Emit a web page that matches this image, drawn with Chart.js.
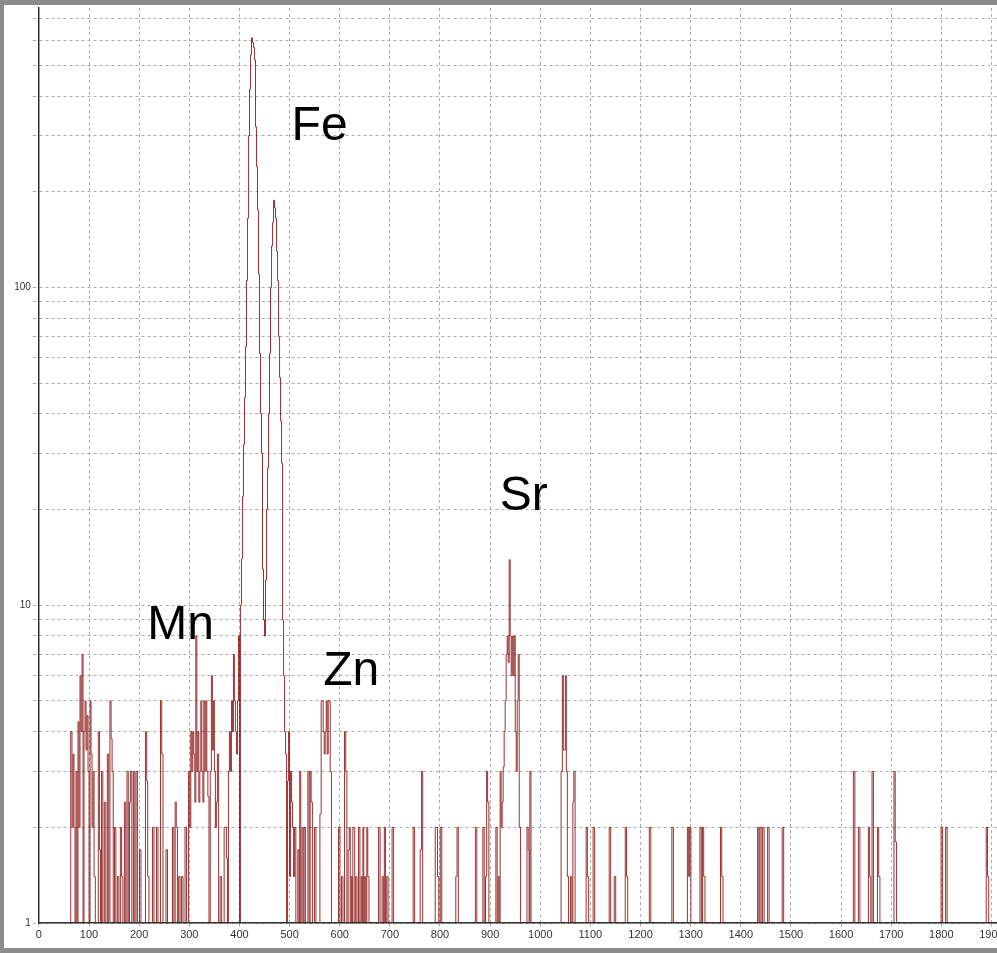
<!DOCTYPE html>
<html>
<head>
<meta charset="utf-8">
<title>XRF spectrum</title>
<script src="https://cdn.jsdelivr.net/npm/chart.js@4.4.0/dist/chart.umd.min.js"></script>
<style>
    html, body { margin: 0; padding: 0; }
    body { width: 997px; height: 953px; background: #8b8b8b; position: relative; overflow: hidden; }
    #panel { position: absolute; left: 4px; top: 5px; width: 993px; height: 943px; background: #ffffff; }
    #spectrum { display: block; }
</style>
</head>
<body>
<div id="panel"><canvas id="spectrum" width="993" height="943"></canvas></div>
<script>
// spectrum: channel -> counts, one region per array pair
// (channels without counts sit on the axis, the builder adds them)
const lowChannel = [65, 67, 69, 71, 75, 79, 81, 83, 85, 87, 91, 93, 95, 97, 99, 103, 105, 107, 109, 111,
    120, 122, 126, 132, 138, 143, 145, 147, 152, 158, 164, 166, 172, 177, 182, 184, 190, 195, 202,
    214, 216, 218, 228, 236, 244, 246, 255, 268, 273, 275, 280, 286, 293,
    300, 302, 304, 306, 308, 310, 312, 314, 316, 318, 320, 322, 324, 326, 328, 330, 332, 334, 336, 338,
    343, 345, 347, 349, 351, 353, 355, 357, 363, 371, 373, 375,
    379, 381, 383, 385, 387, 389, 391, 393, 395, 397, 399];
const lowCounts = [4, 2, 3.4, 2, 3, 4.3, 2, 6, 4, 7, 4, 5, 3.5, 4.5, 3, 5, 3.4, 2, 3, 1.4,
    4, 1.7, 3, 2.4, 3.4, 5, 3.8, 3, 2, 1.4, 2, 1.4, 2.4, 3, 2.4, 3, 3, 3, 1.7,
    4, 2.8, 1.4, 2, 2, 5, 3.4, 1.7, 2, 2.4, 2, 1.4, 1.4, 2,
    3, 2, 4, 3, 4, 3.4, 2.4, 8, 3, 4, 2.4, 3, 5, 3, 2.4, 5, 3, 5, 3, 2.5,
    3, 6, 3.5, 5, 3, 2, 2.4, 3.4, 1.4, 2, 2, 1.6,
    3, 4, 3, 5, 4, 7, 5, 4, 3.4, 5, 8];

const feChannel = [403, 405, 407, 409, 411, 413, 415, 417, 419, 421, 423, 425, 427, 429, 431, 433, 435, 437,
    439, 441, 443, 445, 447, 449, 451, 453, 455, 457, 459, 461, 463, 465, 467, 469, 471, 473,
    475, 477, 479, 481, 483, 485, 487, 489, 491, 493];
const feCounts = [10, 14, 22, 32, 45, 65, 105, 165, 300, 420, 540, 610, 590, 570, 520, 320, 240, 175,
    110, 62, 40, 30, 13, 9, 8, 12, 20, 27, 40, 62, 100, 135, 160, 188, 178, 165,
    130, 105, 70, 52, 38, 28, 9, 6, 4, 3.4];

const znChannel = [497, 499, 501, 503, 505, 507, 509, 511, 518, 521, 526, 530, 538, 542, 544, 551,
    562, 564, 566, 568, 570, 572, 574, 576, 578, 580, 582,
    599, 605, 611, 613, 618, 620, 624, 627, 629, 633, 639, 644, 647, 651, 655, 657,
    679, 686, 690, 695, 706, 748, 762, 764, 792, 794, 796, 802];
const znCounts = [2.8, 4, 1.4, 3, 2.4, 2, 1.4, 2, 1.7, 3, 2, 2, 3, 3, 2.4, 2,
    2.2, 5, 5, 4, 3.4, 4, 5, 3.4, 5, 5, 3,
    2, 1.4, 4, 3, 1.7, 2, 1.4, 2, 2, 1.4, 2, 1.4, 2, 1.4, 2, 1.4,
    2, 1.4, 2, 1.4, 2, 2, 1.7, 3, 2, 2, 1.4, 2];

const srChannel = [833, 835, 872, 887, 892, 894, 896, 913, 917,
    921, 923, 925, 927, 929, 931, 933, 935, 937, 939, 941, 943, 945, 947, 949, 951, 953, 955, 957, 959,
    975, 977, 980, 1043, 1045, 1047, 1049, 1051, 1053, 1055, 1062, 1066, 1068,
    1093, 1095, 1107, 1139, 1149, 1171, 1173, 1219];
const srCounts = [1.4, 2, 2, 2, 1.4, 3, 2.4, 2, 1.4,
    3, 2, 2.4, 3.1, 4, 5, 7, 8, 6.6, 13.9, 8, 6, 8, 6, 8, 4, 3, 5, 7, 2,
    2, 1.7, 3, 3, 6, 3.5, 3.5, 6, 3, 1.4, 1.4, 2.4, 3,
    2, 1.4, 2, 2, 1.4, 2, 1.4, 2];

const highChannel = [1264, 1295, 1297, 1299, 1320, 1325, 1327, 1361, 1363, 1435, 1439, 1445, 1455, 1484,
    1626, 1636, 1656, 1658, 1663, 1674, 1676, 1707, 1709, 1801, 1810, 1891, 1893];
const highCounts = [2, 2, 1.4, 2, 2, 2, 1.4, 2, 1.4, 2, 2, 2, 2, 2,
    3, 2, 2, 1.4, 3, 2, 1.4, 3, 1.8, 2, 2, 2, 1.4];

// axes
const xTickValues = [0, 100, 200, 300, 400, 500, 600, 700, 800, 900, 1000,
    1100, 1200, 1300, 1400, 1500, 1600, 1700, 1800, 1900];
const yTickValues = [1, 2, 3, 4, 5, 6, 7, 8, 9, 10, 20, 30, 40, 50, 60, 70, 80, 90,
    100, 200, 300, 400, 500, 600, 700];
const yLabelValues = [1, 10, 100];

// element names written next to their peaks (x = channel, y = counts at text baseline)
const peakNames = ["Mn", "Fe", "Zn", "Sr"];
const peakNameChannel = [216, 504, 567, 919];
const peakNameCounts = [7.8, 290, 5.6, 20];

const BASE = 1;   // zero counts are drawn on the axis of the log scale
const FONT = "'Liberation Sans', Arial, sans-serif";
const GRID_COLOR = "#ababab";

const peakLabels = {
    id: "peakLabels",
    afterDatasetsDraw(chart) {
        const ctx = chart.ctx;
        const xScale = chart.scales.x;
        const yScale = chart.scales.y;
        ctx.save();
        ctx.fillStyle = "#000000";
        ctx.font = "48px " + FONT;
        ctx.textAlign = "left";
        ctx.textBaseline = "alphabetic";
        peakNames.forEach((name, i) => {
            ctx.fillText(name, xScale.getPixelForValue(peakNameChannel[i]), yScale.getPixelForValue(peakNameCounts[i]));
        });
        ctx.restore();
    }
};

// zero points on both sides of every gap so each burst of counts rises from the axis
function buildSpectrum(channels, counts) {
    const points = [];
    for (let i = 0; i < channels.length; i++) {
        const x = channels[i];
        if (i === 0) {
            points.push({ x: x - 3, y: BASE });
        }
        else {
            const prev = channels[i - 1];
            const gap = x - prev;
            if (gap > 6) {
                points.push({ x: prev + 3, y: BASE });
                points.push({ x: x - 3, y: BASE });
            }
            else if (gap > 2) {
                points.push({ x: (prev + x) / 2, y: BASE });
            }
        }
        points.push({ x: x, y: counts[i] });
    }
    points.push({ x: channels[channels.length - 1] + 3, y: BASE });
    return points;
}

function drawSpectrum() {
    const channels = lowChannel.concat(feChannel, znChannel, srChannel, highChannel);
    const counts = lowCounts.concat(feCounts, znCounts, srCounts, highCounts);

    new Chart(document.getElementById("spectrum").getContext("2d"), {
        type: "line",
        data: {
            datasets: [{
                data: buildSpectrum(channels, counts),
                borderColor: "rgba(128, 0, 0, 0.8)",
                borderWidth: 1,
                pointRadius: 0,
                stepped: "middle",
                fill: false,
            }]
        },
        options: {
            responsive: false,
            animation: false,
            devicePixelRatio: 1,
            layout: { padding: { top: 3, left: 0, right: 0, bottom: 0 } },
            plugins: {
                legend: { display: false },
                tooltip: { enabled: false },
            },
            scales: {
                x: {
                    type: "linear",
                    min: 0,
                    max: 1911,
                    afterBuildTicks: (scale) => {
                        scale.ticks = xTickValues.map((v) => ({ value: v }));
                    },
                    afterFit: (scale) => {
                        scale.height = 25;
                        scale.paddingLeft = 0;
                        scale.paddingRight = 0;
                    },
                    ticks: {
                        autoSkip: false,
                        maxRotation: 0,
                        padding: 1,
                        color: "#333333",
                        font: { family: FONT, size: 11 },
                        callback: (v) => String(v),
                    },
                    grid: {
                        color: GRID_COLOR,
                        lineWidth: 1,
                        tickLength: 4,
                        tickBorderDash: [3, 3],
                    },
                    border: { display: true, color: "#333333", width: 1.5, dash: [3, 3], z: 1 },
                },
                y: {
                    type: "logarithmic",
                    min: 1,
                    max: 757,
                    afterBuildTicks: (scale) => {
                        scale.ticks = yTickValues.map((v) => ({ value: v }));
                    },
                    afterFit: (scale) => {
                        scale.width = 34.9;
                        scale.paddingTop = 0;
                        scale.paddingBottom = 0;
                    },
                    ticks: {
                        autoSkip: false,
                        padding: 2,
                        color: "#333333",
                        font: { family: FONT, size: 10 },
                        callback: (v) => yLabelValues.includes(v) ? String(v) : "",
                    },
                    grid: {
                        color: GRID_COLOR,
                        lineWidth: 1,
                        tickLength: 6,
                        tickBorderDash: [3, 3],
                    },
                    border: { display: true, color: "#333333", width: 1.5, dash: [3, 3], z: 1 },
                },
            },
        },
        plugins: [peakLabels],
    });
}

drawSpectrum();
</script>
</body>
</html>
